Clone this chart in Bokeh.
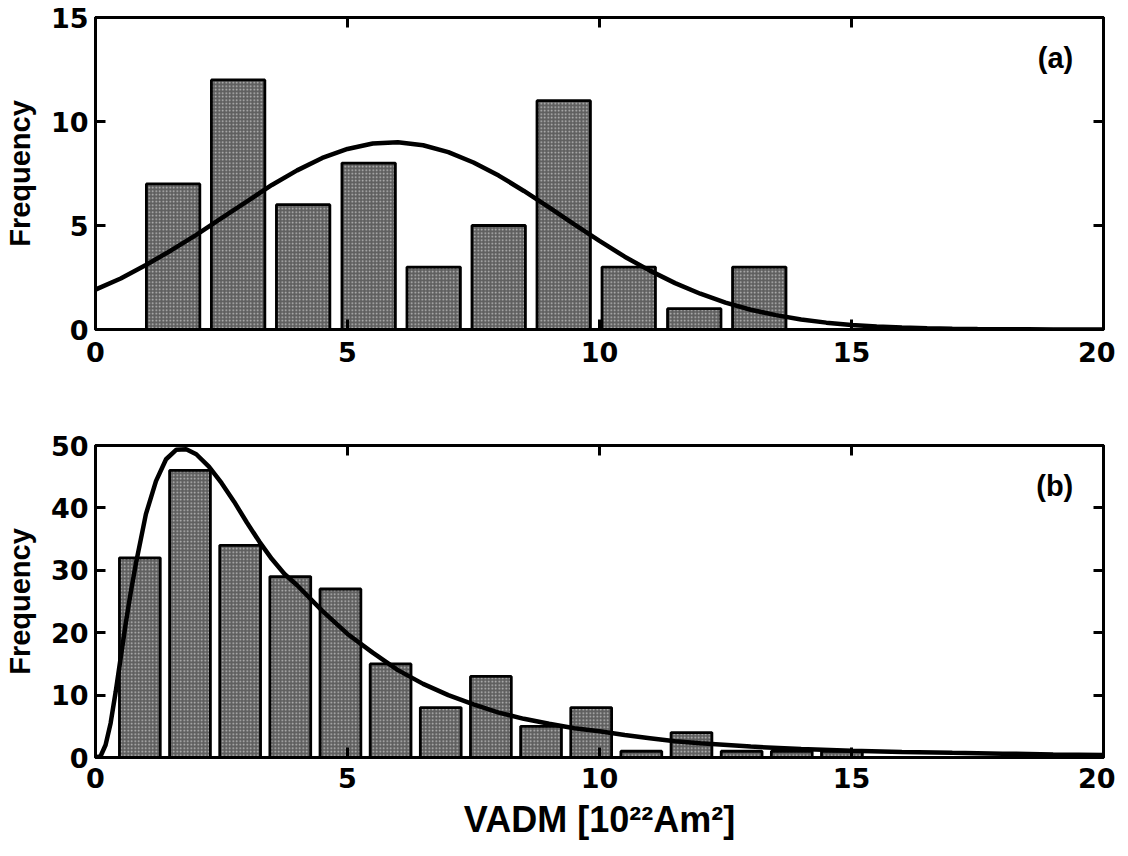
from bokeh.plotting import figure
from bokeh.models import Range1d, LinearAxis, FixedTicker, Label, CustomLabelingPolicy
from bokeh.layouts import column
from bokeh.embed import file_html
from bokeh.resources import INLINE

# ---------------- data ----------------
# panel (a): histogram
a_centers = [1.54, 2.83, 4.12, 5.42, 6.71, 8.00, 9.29, 10.58, 11.88, 13.17]
a_counts = [7, 12, 6, 8, 3, 5, 11, 3, 1, 3]
a_bar_width = 1.06
# panel (a): fitted curve
a_curve_x = [0, 0.5, 1, 1.5, 2, 2.5, 3, 3.5, 4, 4.5, 5, 5.5, 6, 6.5, 7, 7.5, 8, 8.5,
             9, 9.5, 10, 10.5, 11, 11.5, 12, 12.5, 13, 13.5, 14, 14.5, 15, 15.5,
             16, 16.5, 17, 17.5, 18, 18.5, 19, 19.5, 20]
a_curve_y = [1.92, 2.45, 3.1, 3.8, 4.55, 5.35, 6.15, 6.95, 7.65, 8.25, 8.68, 8.94,
             9.0, 8.86, 8.53, 8.03, 7.4, 6.66, 5.87, 5.05, 4.26, 3.5, 2.83, 2.23,
             1.72, 1.29, 0.95, 0.69, 0.48, 0.33, 0.22, 0.15, 0.1, 0.06, 0.04,
             0.025, 0.015, 0.01, 0.006, 0.003, 0.002]

# panel (b): histogram
b_centers = [0.88, 1.875, 2.87, 3.865, 4.86, 5.855, 6.85, 7.845, 8.84, 9.835,
             10.83, 11.825, 12.82, 13.815, 14.81]
b_counts = [32, 46, 34, 29, 27, 15, 8, 13, 5, 8, 1, 4, 1, 1, 1]
b_bar_width = 0.81
# panel (b): fitted curve
b_curve_x = [0, 0.1, 0.2, 0.3, 0.4, 0.5, 0.6, 0.7, 0.8, 0.9, 1.0, 1.2, 1.4, 1.6,
             1.8, 2.0, 2.25, 2.5, 2.75, 3.0, 3.25, 3.5, 3.75, 4.0, 4.5, 5.0, 5.5,
             6.0, 6.5, 7.0, 7.5, 8.0, 8.5, 9.0, 9.5, 10, 10.5, 11, 11.5, 12, 13,
             14, 15, 16, 17, 18, 19, 20]
b_curve_y = [0, 0.2, 2.0, 5.5, 10.5, 16.0, 21.5, 26.5, 31.0, 35.0, 39.0, 44.3,
             47.8, 49.3, 49.4, 48.6, 46.6, 44.0, 41.0, 37.7, 34.6, 31.8, 29.4,
             27.6, 23.5, 19.8, 16.8, 14.0, 11.8, 10.0, 8.5, 7.2, 6.2, 5.4, 4.7,
             4.2, 3.6, 3.1, 2.6, 2.3, 1.75, 1.35, 1.07, 0.9, 0.75, 0.62, 0.5, 0.4]

x_ticks = [0, 5, 10, 15, 20]
a_y_ticks = [0, 5, 10, 15]
b_y_ticks = [0, 10, 20, 30, 40, 50]

TICK_FONT = "DejaVu Sans"
LABEL_FONT = "Liberation Sans"


def style_axis(ax, label_size="27px"):
    ax.axis_line_width = 3
    ax.axis_line_color = "black"
    ax.major_tick_in = 10
    ax.major_tick_out = 0
    ax.minor_tick_in = 0
    ax.minor_tick_out = 0
    ax.major_tick_line_width = 3
    ax.major_tick_line_color = "black"
    ax.major_label_text_font = TICK_FONT
    ax.major_label_text_font_style = "bold"
    ax.major_label_text_font_size = label_size
    ax.major_label_text_color = "black"
    ax.axis_label_text_font = LABEL_FONT
    ax.axis_label_text_font_style = "bold"
    ax.axis_label_text_color = "black"


NO_LABELS = CustomLabelingPolicy(code="return new Set()")


def make_panel(ymax, yticks, centers, counts, bw, cx, cy, tag, top, bottom,
               xstand, xlabel=None):
    p = figure(frame_width=1008, frame_height=312,
               x_range=Range1d(0, 20), y_range=Range1d(0, ymax),
               output_backend="svg", toolbar_location=None,
               min_border_left=90, min_border_right=12,
               min_border_top=top, min_border_bottom=bottom,
               background_fill_color="white", border_fill_color="white")
    p.xgrid.visible = False
    p.ygrid.visible = False
    p.outline_line_color = "black"
    p.outline_line_width = 3

    p.xaxis.ticker = FixedTicker(ticks=x_ticks)
    p.yaxis.ticker = FixedTicker(ticks=yticks)
    for ax in p.xaxis:
        style_axis(ax)
        ax.major_label_standoff = xstand
    for ax in p.yaxis:
        style_axis(ax)
        ax.major_label_standoff = 7
        ax.axis_label = "Frequency"
        ax.axis_label_text_font_size = "29px"
        ax.axis_label_standoff = 12
    if xlabel:
        p.xaxis.axis_label = xlabel
        p.xaxis.axis_label_text_font_size = "36px"
        p.xaxis.axis_label_standoff = 8

    # mirrored tick marks on the top and right edges (box style, no labels)
    right = LinearAxis(ticker=FixedTicker(ticks=yticks))
    top_ax = LinearAxis(ticker=FixedTicker(ticks=x_ticks))
    for ax in (right, top_ax):
        style_axis(ax, label_size="2px")
        ax.major_label_standoff = 0
        ax.major_label_policy = NO_LABELS
    p.add_layout(right, "right")
    p.add_layout(top_ax, "above")

    p.vbar(x=centers, top=counts, width=bw, bottom=0,
           fill_color="#5f5f5f", line_color="black", line_width=2.8,
           hatch_pattern="dot", hatch_color="#e0e0e0", hatch_scale=3.5,
           hatch_weight=1.1, hatch_alpha=0.75)
    p.line(cx, cy, line_color="black", line_width=4.5)

    lab = Label(x=19.4, y=ymax * 0.92, text=tag, text_align="right",
                text_baseline="top", text_font=LABEL_FONT, text_font_style="bold",
                text_font_size="29px", text_color="black")
    p.add_layout(lab)
    return p


pa = make_panel(15, a_y_ticks, a_centers, a_counts, a_bar_width,
                a_curve_x, a_curve_y, "(a)", top=17, bottom=60, xstand=12)
pb = make_panel(50, b_y_ticks, b_centers, b_counts, b_bar_width,
                b_curve_x, b_curve_y, "(b)", top=56, bottom=92, xstand=10,
                xlabel="VADM [10²²Am²]")

layout = column(pa, pb)
open("out.html", "w").write(file_html(layout, INLINE))
